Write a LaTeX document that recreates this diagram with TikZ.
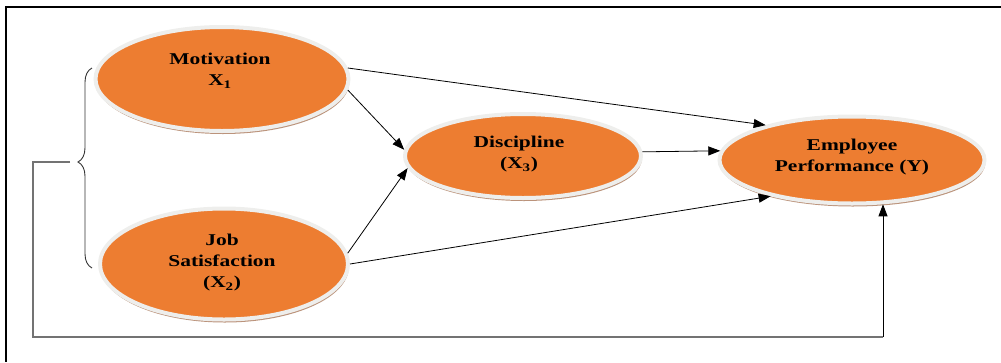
\documentclass[tikz,border=0pt]{standalone}
\usepackage{fontspec}
\setmainfont{Liberation Serif}[FakeStretch=1.3]
\usetikzlibrary{arrows.meta,shadows,shapes.geometric,decorations.pathreplacing}
\definecolor{varfill}{RGB}{237,125,49}
\definecolor{varrim}{RGB}{238,238,236}
\definecolor{varshadow}{RGB}{170,120,90}
\begin{document}
\begin{tikzpicture}[x=1pt, y=-1pt,
    var/.style={ellipse, draw=varrim, line width=4pt, fill=varfill,
      drop shadow={shadow xshift=0.8pt, shadow yshift=-3pt, fill=varshadow, opacity=0.8}},
    caption/.style={align=center, font=\fontsize{16.5}{21}\selectfont\bfseries},
    path/.style={-{Triangle[length=12pt,width=9pt]}, line width=0.8pt},
    loop/.style={line width=1.3pt, black!55}]
    \useasboundingbox (0,0) rectangle (1001,362);
    \draw[line width=1.2pt] (1001,7) -- (6,7) -- (6,362);
    % the four variables
    \node[var, minimum width=253pt, minimum height=104pt] (mot) at (222,79) {};
    \node[var, minimum width=248pt, minimum height=111pt] (job) at (224,264) {};
    \node[var, minimum width=236pt, minimum height=84pt] (dis) at (523,156) {};
    \node[var, minimum width=265pt, minimum height=87pt] (emp) at (852,160) {};
    \node[caption] (mot-txt) at (220,71) {Motivation\\X\textsubscript{1}};
    \node[caption] (job-txt) at (222,263) {Job\\Satisfaction\\(X\textsubscript{2})};
    \node[caption] (dis-txt) at (519,154) {Discipline\\(X\textsubscript{3})};
    \node[caption] (emp-txt) at (852,157) {Employee\\Performance (Y)};
    % paths
    \draw[path] (mot.5) -- (emp.158);
    \draw[path] (mot.-5) -- (dis.177);
    \draw[path] (job.5) -- (dis.186);
    \draw[path] (job.0) -- (emp.204);
    \draw[path] (dis.2) -- (emp.176);
    % brace and joint effect
    \draw[black!80, line width=0.9pt, decorate,
      decoration={brace, amplitude=14pt, aspect=0.53}] (92,268) -- (92,68);
    \coordinate (tip) at (70,162);
    \coordinate (loopcorner) at (33,337);
    \coordinate (empin) at (emp.-55);
    \coordinate (loopend) at (loopcorner -| empin);
    \draw[loop] (tip) -| (loopcorner) -- (loopend);
    \draw[path] (loopend) -- (empin);
\end{tikzpicture}
\end{document}
